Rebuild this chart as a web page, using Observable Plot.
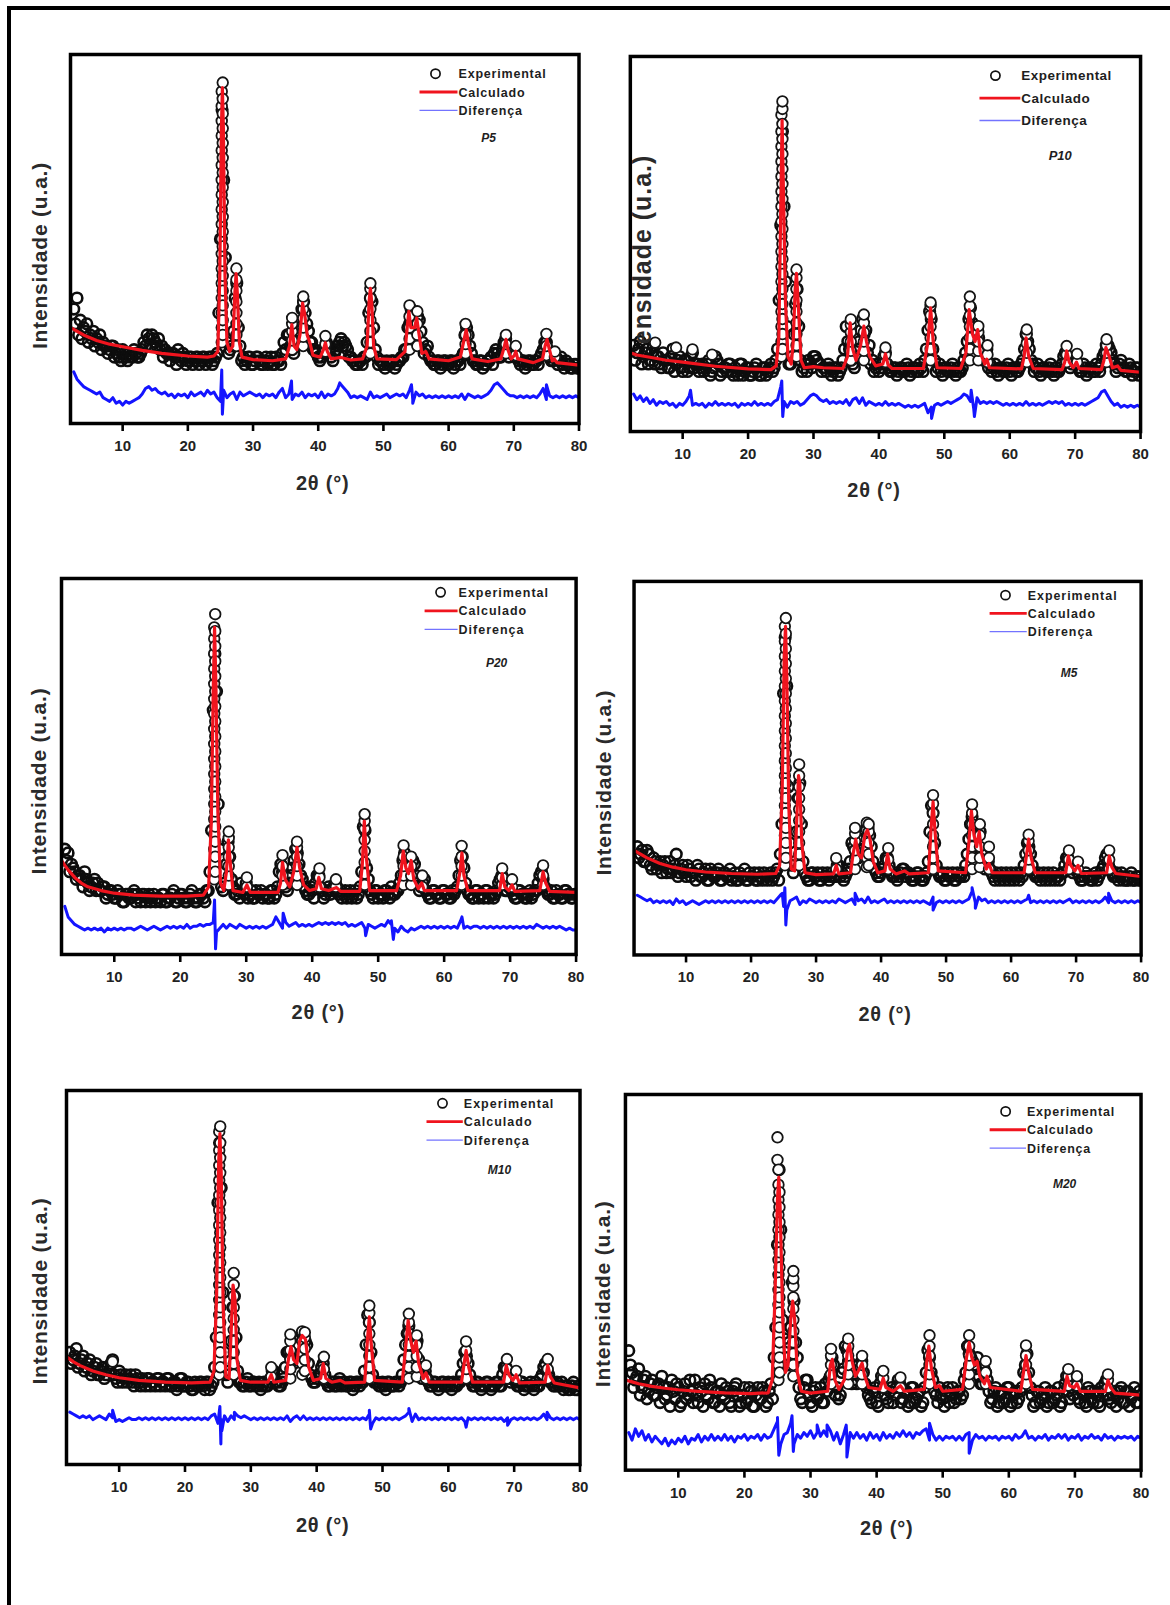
<!DOCTYPE html>
<html><head><meta charset="utf-8">
<script src="https://cdn.jsdelivr.net/npm/d3@7"></script>
<script src="https://cdn.jsdelivr.net/npm/@observablehq/plot@0.6"></script>
<style>
body{margin:0;background:#fff;}
#page{position:relative;width:1170px;height:1605px;overflow:hidden;background:#fff;}
#border{position:absolute;left:7px;top:6px;width:1200px;height:1700px;border-top:4px solid #000;border-left:4px solid #000;}
.panel{position:absolute;}
.panel svg{overflow:visible;}
.panel svg g[aria-label="x-axis"] path,.panel svg g[aria-label="x-axis tick"] path{stroke-width:2.6px;stroke:#000;}
</style></head><body><div id="page"><div id="border"></div></div>
<script>
// ---------- shared ----------
const GRID_START = 2.5, GRID2_START = 2.75, GRID_STEP = 0.5;   // 2θ sampling of the observed pattern
const xTicks = [10, 20, 30, 40, 50, 60, 70, 80];
const legendLabels = ["Experimental", "Calculado", "Diferença"];
const panelNames = ["P5", "P10", "P20", "M5", "M10", "M20"];
const yTitles = ["Intensidade (u.a.)", "ensidade (u.a.)", "Intensidade (u.a.)", "Intensidade (u.a.)", "Intensidade (u.a.)", "Intensidade (u.a.)"];
const xTitle = "2θ (°)";

// ---------- P5 ----------
const P5_calc = [[2,26],[3,25],[4,24],[6,22.5],[8,21.5],[10,20.8],[13,19.8],[16,19],[20,18.3],[23,18],[24,18.3],[24.6,19.5],[24.9,40],[25.15,80],[25.3,91],[25.45,80],[25.7,40],[26.0,22],[26.4,19.5],[26.9,21],[27.2,35],[27.4,40.6],[27.6,35],[27.9,22],[28.3,18],[30,17.3],[33,17],[35,17.5],[35.6,21],[35.95,26.8],[36.3,21],[36.7,20],[37.2,24],[37.6,32.6],[37.9,30],[38.3,24],[38.7,22],[39.2,18.5],[40.3,18],[40.8,20],[41.1,21.9],[41.4,19.5],[42,17.5],[43.5,17.9],[45,17.2],[46.8,17.5],[47.5,21],[47.8,33],[48.0,36.6],[48.2,33],[48.5,21],[49,17.5],[52,17.3],[53.3,19.5],[53.7,27],[53.9,30.4],[54.2,26],[54.8,26],[55.1,28.6],[55.4,25],[55.9,19],[56.5,19.5],[57,17.5],[60,17],[61.8,18],[62.4,23],[62.7,25.4],[63.0,22],[63.6,17.5],[66,16.8],[68,17.5],[68.5,20.5],[68.8,22.8],[69.1,20],[69.6,17.5],[70.1,18.5],[70.3,19.6],[70.6,17.5],[73,16.5],[74.4,17.5],[74.8,21],[75.1,22.8],[75.4,20.5],[75.9,17],[76.2,17.5],[76.6,16.5],[80,15.8]];
const P5_obs = [31,34,28,26,27,24,25,23,24,22, 21,20,21,19,18,20,18,19,18,19, 18,20,21,23,24,22,23,21,20,19, 19,18,20,17,18,17,18,17,18,17, 18,17,18,17,19,50,66,22,20,25, 38,21,18,17,18,16,18,17,16,18, 17,16,18,17,19,20,24,20,21,25, 31,30,25,22,20,18,18,19,21,18, 19,21,23,22,20,18,17,16,17,18, 22,34,26,18,17,16,17,16,17,16, 17,18,20,27,30,27,28,22,20,18, 17,16,17,16,17,16,17,16,17,18, 24,24,19,17,16,17,16,17,18,19, 19,18,22,20,19,20,18,16,17,16, 17,16,17,18,20,22,18,17,18,17, 16,17,16,15,16,15];
const P5_obs2 = [27,24,23,25,22,23,21,22,20,21, 19,21,18,20,17,19,17,18,20,18, 19,22,24,21,23,21,20,18,19,17, 19,16,18,19,16,18,16,18,16,18, 16,18,16,18,30,85,45,19,21,34, 26,17,16,18,16,17,18,16,17,16, 18,16,17,16,22,24,21,19,22,26, 33,27,22,20,19,17,20,22,20,17, 20,22,21,21,18,17,16,17,16,18, 30,33,20,16,17,15,16,17,15,17, 18,20,26,31,26,29,25,19,21,17, 16,17,15,17,16,17,15,17,16,19, 26,21,17,16,17,15,16,17,16,20, 18,20,23,18,20,18,17,17,15,17, 16,17,16,19,22,20,17,18,16,18, 15,16,15,16,15];
const P5_peaks = [[25.2,22,26,30,34,38,42,46,50,54,58,62,66,70,74,78,82,86,90],[25.35,24,28,32,36,40,44,48,52,56,60,64,68,72,76,80,84,88,92.4],[27.45,21,24,27,30,33,36,39,42],[36.0,20,22.5,25,27,28.6],[37.7,21,23.5,26,28.5,31,33,34.4],[41.1,19.5,21.5,23.7],[48.0,19,22,25,28,31,34,36.5,38],[54.0,20,23,26,29,32],[55.2,21,24,27,30.4],[62.6,19,21.5,24,27],[68.8,19,21.5,24],[70.3,18.5,21],[75.0,18.5,21,24.3],[76.3,18,19.5]];
const P5_diff = [14,12,11,10,9.5,9,8.5,8,8.5,7, 6.5,6,7,5.5,6,5,6,5.5,6,6.5, 7,8,9.5,10,9,9.5,8.5,8,8.5,7.5, 8,7,8,7.5,8,7,8.5,7.5,8,8.5, 7.5,9,8,8.5,7,6,9,7,8,8.5, 6.5,8.5,7.5,8,8.5,8,7.5,8,7,8, 7.5,8,7,8.5,9.5,7,8,6.5,8,7.5, 8.5,7,8,7.5,8,7,8.5,7,8,7.5, 8,9.5,10.5,9.5,8.5,7,7.5,7,7.5,7, 6.5,8.5,7,7.5,7,7.5,8,7,7.5,8, 7.5,8,7,9,6.5,8.5,7.5,8,7,7.5, 7,7.5,7,7.5,7,7.5,7,7.5,7,8, 6.5,8,7.5,7,7.5,7,7.5,8,9,10.5, 11,10,9,8,7.5,7.5,7,7.5,7,7.5, 7,7.5,7,8,9.5,6.5,7.5,7,7.5,7, 7.5,7,7.5,7,7.5,7];
const P5_spikes = [[25.2,14.5],[25.3,2.5],[35.9,11.5],[43.3,11],[54.3,10.5],[54.5,5.5],[75.0,10.5]];

// ---------- P10 ----------
const P10_calc = [[2,21],[3,20.4],[5,19.8],[7.5,19],[10,18.5],[15,17.4],[20,16.7],[23.5,16.5],[24.3,17.5],[24.7,25],[25.0,60],[25.2,83],[25.4,65],[25.7,35],[26.1,20],[26.6,18],[26.9,24],[27.2,38],[27.4,42.2],[27.7,33],[28.1,19],[28.6,17],[30,17.3],[31.5,17],[34.5,16.8],[35.2,20],[35.6,29],[36.0,22],[36.5,19],[37.2,23],[37.7,28.1],[38.1,24],[38.6,20],[39.5,17.5],[40.6,18],[41.0,20.7],[41.4,17.8],[42,16.8],[46.8,16.8],[47.5,24],[47.9,33],[48.3,24],[48.9,17],[52.5,16.8],[53.3,21],[53.8,32.5],[54.3,26],[54.7,24],[55.1,27.2],[55.5,21],[56.2,18],[56.5,19.3],[56.9,17],[61.8,16.7],[62.2,20],[62.5,25],[62.9,20],[63.6,16.8],[68,16.5],[68.4,18.5],[68.7,21.5],[69.1,18.5],[69.7,17],[70.2,18.5],[70.6,16.8],[74,16.5],[74.4,19],[74.7,22.4],[75.2,20],[75.7,17],[76.5,17.5],[77,16.3],[80,15.8]];
const P10_obs = [23,21,24,20,22,19,23,20,18,21, 19,17,22,18,20,16,19,17,21,18, 16,18,17,19,16,20,18,16,17,18, 16,17,15,18,16,17,15,17,16,15, 17,16,18,17,22,55,60,28,18,26, 38,19,17,16,18,20,19,18,17,16, 17,16,17,16,19,28,22,18,20,24, 30,27,23,19,17,16,18,21,17,16, 17,16,17,16,17,16,17,16,17,19, 27,30,19,17,16,17,16,17,16,17, 16,19,24,33,26,27,23,19,22,18, 17,16,17,16,17,16,17,16,17,19, 26,22,18,17,16,17,16,17,16,17, 16,18,21,19,18,20,17,16,17,16, 17,16,17,18,21,23,21,18,17,19, 17,16,17,16,17,16];
const P10_obs2 = [19,22,18,21,18,21,18,20,17,19, 17,20,16,19,17,19,16,20,17,18, 17,16,18,15,17,19,15,17,16,18, 15,16,18,15,17,15,16,18,15,17, 15,17,16,19,35,80,40,18,20,34, 28,16,18,19,17,20,18,16,17,18, 15,17,15,17,22,24,19,17,22,27, 26,21,18,16,18,17,20,18,16,17, 15,17,16,18,15,17,16,18,16,22, 32,22,16,18,15,17,16,18,15,16, 17,21,30,29,24,25,20,21,17,16, 18,15,17,16,18,15,17,16,18,22, 24,19,16,18,15,17,16,18,15,16, 17,20,20,17,19,18,16,18,15,17, 16,18,16,20,23,22,19,16,18,17, 16,18,15,17,15];
const P10_peaks = [[25.1,20,24,28,32,36,40,44,48,52,56,60,64,68,72,76,80,84.4],[25.25,22,26,30,34,38,42,46,50,54,58,62,66,70,74,78,82,86,88],[27.4,20,23,26,29,32,35,38,41,43.2],[35.7,19,21.5,24,26.5,28.5,29.9],[37.7,19,21.5,24,26.5,29,31.2],[41.0,18.5,20.5,22.4],[47.9,19,22,25,28,31,33.5,34.4],[53.9,19,22,25,28,31,33.5,36],[55.2,19,21.5,24,26.5,28.1],[56.6,18.5,20.5,23],[62.6,18.5,21,23.5,26,27.2],[68.7,18.5,20.5,22.8],[70.3,18.5,20.7],[74.8,18.5,21,23,24.6],[5.8,23.7],[9.0,22.4],[11.5,21.9],[14.5,20.5]];
const P10_diff = [10,8.5,9.5,8,9,7.5,8.5,7,8,7.5, 8,7,7.5,6.5,7.5,7,8,9.5,7,7.5, 7,7.5,6.5,7.5,7,8,7,7.5,7,7.5, 7,7.5,6.5,7.5,7,7.5,7,8,7,7.5, 7,7.5,7,8,8.5,12,8,6.5,8,7.5, 8,7,7.5,8.5,9.5,10,9.5,8.5,8,8.5, 7.5,8,7.5,8,7.5,8.5,7,8.5,9,7.5, 9,7,8,7.5,7,7.5,7,8,7,7.5, 7,7.5,7,6.5,7,6.5,7,6.5,7,7.5, 5,6.5,7,7.5,7,7.5,8,7.5,8,8.5, 9,10,9.5,8,6,9,7.5,8,7.5,8, 7.5,8,7.5,7,7.5,7,7.5,7,7.5,7, 8,7,7.5,7,7.5,7,7.5,8,7.5,8, 7.5,8,7,7.5,7,7.5,7,7.5,7,7.5, 8,8.5,9,10.5,11,9.5,8,7,7.5,6.5, 7,6.5,7,6.5,7,6.5];
const P10_spikes = [[11.2,11],[25.15,13.5],[25.3,4],[48.05,3.5],[54.1,11],[54.6,4]];

// ---------- P20 ----------
const P20_calc = [[2,25],[2.5,23.7],[3,22.5],[4,20.5],[5,19],[6,18],[8,17],[10,16.3],[13,15.8],[17,15.5],[21,15.5],[23.5,15.8],[24.3,18],[24.7,35],[25.0,70],[25.2,87],[25.4,72],[25.7,38],[26.1,19],[26.6,17],[27.0,22],[27.3,30.5],[27.6,24],[28.0,17],[29.5,16.5],[30.1,18.5],[30.6,16.5],[34.8,16.5],[35.2,19],[35.5,24.5],[35.9,20],[36.6,18],[37.2,22],[37.7,28.5],[38.1,23],[38.7,18.5],[39.6,17],[40.6,17.5],[41.0,20.5],[41.4,17.5],[42.5,17],[43.7,17.8],[44.3,16.8],[47.2,16.8],[47.6,24],[47.9,35.5],[48.2,26],[48.7,17],[52.8,17],[53.4,21],[53.8,27.5],[54.2,23],[54.6,21.5],[55.0,25],[55.4,20],[56.1,17.5],[56.6,19],[57.0,17],[61.9,17],[62.4,22],[62.7,27],[63.0,21],[63.6,17],[68.4,17],[68.8,21.5],[69.2,18],[69.8,17],[70.3,18.5],[70.7,16.8],[74.5,17],[75.0,22],[75.4,19],[76.0,16.8],[80,16.5]];
const P20_obs = [28,27,24,22,21,20,22,19,18,20, 19,17,18,16,17,15,17,16,14,16, 15,17,16,14,16,15,14,16,15,14, 16,14,15,17,14,16,15,14,16,15, 14,16,15,17,22,65,70,28,17,24, 26,18,16,15,17,19,16,15,17,16, 15,16,15,17,16,22,22,18,19,23, 28,24,20,17,16,17,19,21,17,16, 18,17,19,16,15,17,16,15,17,16, 22,33,20,16,17,15,16,17,16,18, 16,17,21,27,22,23,24,19,18,20, 16,15,17,16,15,17,16,15,16,18, 25,23,17,16,15,17,16,15,17,16, 15,17,20,19,17,19,16,15,17,16, 15,17,16,17,21,20,17,16,15,17, 16,15,17,16,15,16];
const P20_obs2 = [25,22,23,20,21,18,20,17,19,17, 17,18,15,17,16,15,16,14,16,15, 16,14,15,16,14,16,15,14,15,16, 14,15,16,14,15,16,14,15,17,14, 15,16,14,17,33,80,40,18,19,30, 20,16,17,19,16,15,17,15,16,17, 16,15,17,15,18,24,19,17,21,25, 27,21,18,16,18,15,21,18,15,17, 16,18,18,17,16,15,17,16,15,18, 34,23,17,15,17,16,15,17,15,16, 17,19,25,24,21,25,21,17,19,17, 15,17,16,15,17,16,15,17,17,21, 26,19,16,15,17,15,16,17,15,16, 16,19,21,17,18,17,15,17,16,15, 16,15,17,19,22,18,16,17,15,16, 15,17,16,15,16];
const P20_peaks = [[25.15,20,24,28,32,36,40,44,48,52,56,60,64,68,72,76,80,84,87],[25.3,22,26,30,34,38,42,46,50,54,58,62,66,70,74,78,82,86,90.5],[27.35,18.5,21,23.5,26,28.5,31,32.7],[30.1,18,20.5],[35.5,18.5,21,23.5,26.4],[37.7,18.5,21,23.5,26,28.5,30],[41.1,18,20.5,22.9],[43.6,18,20],[47.95,18.5,21.5,24.5,27.5,30.5,33.5,35.5,37.3],[53.85,18.5,21,23.5,26,29],[55.0,18.5,21,23.5,26],[56.7,18,21],[62.65,18.5,21,23.5,26,28.9],[68.8,18.5,20.5,22.9],[70.3,18,20],[75.0,18.5,21,23.7]];
const P20_diff = [12.8,10,9,8,7.5,7,6.5,7,6.5,7, 6.5,7,6,7,6.5,7,6.5,7,6.5,7, 7,6.5,7,7.5,7,6.5,7,7.5,7,6.5, 7,7.5,7,7.5,7,7.5,7,8,7,7.5, 7.5,8,7.5,8,8,8.5,6,7,8,7, 8,7.5,7,8,7.5,7,7.5,7,7.5,7, 7.5,7,7.5,8,10,8.5,7,8.5,7.5,8, 8.5,7.5,8,7.5,8,7.5,8,8.5,8,8.5, 8,8.5,8,8.5,8,8.5,7.5,8,7.5,8, 8.5,7,8,7.5,7,7.5,8,7.5,9,8, 7,6,7.5,6.5,6,7,6.5,7,7.5,7, 7.5,7,7.5,7,7.5,7,7.5,7,7.5,7, 9,7,7.5,7,7.5,7.5,7,7.5,7,7.5, 7,7.5,7,7.5,7,7.5,7,7.5,7,7.5, 7,7.5,7,8,7.5,7,7.5,7,7.5,7, 7.5,7,6.5,7,6.5,6.5];
const P20_spikes = [[25.2,14.5],[25.35,1.5],[35.6,11],[48.1,5],[52.0,9],[52.3,4],[62.7,10]];

// ---------- M5 ----------
const M5_calc = [[2,28],[3,27],[4,26],[6,24.5],[8,23.5],[10,22.8],[13,22.2],[17,21.8],[21,21.6],[23.8,21.8],[24.4,24],[24.8,45],[25.1,80],[25.3,88],[25.5,75],[25.8,40],[26.2,23],[26.7,22.5],[27.0,35],[27.3,48],[27.5,46],[27.8,30],[28.3,22],[30,21.5],[32.7,21.7],[33.1,24],[33.5,21.7],[35.3,22],[35.7,27],[36.1,31],[36.5,27],[37.0,26],[37.5,32],[37.9,33.5],[38.3,31],[38.8,25],[39.5,22],[40.6,22.5],[41.0,27],[41.4,23],[42.3,21.7],[43.6,22.5],[44.3,21.7],[47.3,22],[47.7,34],[48.0,41],[48.3,33],[48.8,22.5],[53.0,22],[53.5,30],[53.9,38.5],[54.3,32],[54.7,29],[55.1,33],[55.5,27],[56.2,23],[56.6,24.5],[57.1,22],[62.0,22],[62.4,27],[62.7,31],[63.1,26],[63.7,22],[68.4,22],[68.8,26.5],[69.2,24],[69.8,22.5],[70.3,24],[70.8,21.8],[74.7,22],[75.1,26.5],[75.5,23.5],[76.1,21.8],[80,21]];
const M5_obs = [29,27,25,28,24,26,23,25,24,22, 25,23,27,22,24,21,23,22,20,23, 21,23,20,22,21,23,20,22,21,20, 22,20,21,23,20,21,22,20,21,22, 20,22,21,23,27,70,72,30,22,33, 46,25,21,20,22,21,20,22,21,20, 22,21,24,22,21,23,30,28,26,28, 33,34,29,23,21,22,24,26,22,21, 20,22,23,22,21,20,22,21,20,22, 33,38,24,21,22,20,21,22,20,21, 22,24,31,37,31,32,27,23,25,22, 20,21,22,20,21,22,20,21,22,24, 30,27,22,21,20,22,21,20,22,21, 20,22,26,24,22,24,21,20,22,21, 20,22,21,23,26,24,22,21,20,22, 21,20,22,20,21,20];
const M5_obs2 = [26,28,25,27,23,25,24,22,25,23, 22,24,21,23,22,24,21,22,24,21, 22,20,23,21,22,20,22,21,23,21, 20,22,21,20,22,21,20,22,20,21, 21,20,22,20,35,85,45,24,25,42, 35,22,20,22,21,22,20,21,22,21, 21,24,21,20,22,25,29,27,27,31, 34,32,25,22,21,23,26,24,21,22, 21,23,21,22,20,21,22,20,21,25, 40,30,22,21,20,22,21,20,22,21, 21,27,35,33,29,33,25,24,23,21, 22,20,21,22,20,21,22,20,21,27, 29,24,21,22,21,20,22,21,20,21, 22,24,26,23,23,22,20,21,21,20, 21,20,22,24,27,23,21,22,21,20, 20,21,20,21,20];
const M5_peaks = [[25.2,24,28,32,36,40,44,48,52,56,60,64,68,72,76,80,84,88],[25.35,26,30,34,38,42,46,50,54,58,62,66,70,74,78,82,86,90.2],[27.4,24,27,30,33,36,39,42,45,48,51],[33.1,23,25.9],[36.0,23,25.5,28,30.5,32.5,34],[37.8,23.5,26,28.5,31,33.5,35.4],[38.1,24,27,30,33,35],[41.1,23,25.5,28.6],[48.0,23,26,29,32,35,38,40.5,42.8],[54.0,23,26,29,32,35,38,40.3],[55.2,23.5,26,29,32,35],[56.6,23,26,29],[62.7,23,25.5,28,30.5,32.2],[68.9,23,25.5,28],[70.3,23,25],[75.1,23,25.5,28]];
const M5_diff = [16,15.5,15,14.5,15,14,14.5,14,14.5,14, 14.5,13.5,15,14,14.5,13.5,14,14.5,14,13.5, 14,14.5,14,14.5,14,14.5,14,14.5,14,14.5, 14,14.5,14,14.5,14,14.5,14,14.5,14,14.5, 14,14.5,14,15,16,13,12,14.5,15,15.5, 13.5,14.5,14,15,14.5,14,14.5,14,14.5,14, 14.5,14,15,14.5,14,14.5,15,13.5,14.5,15, 14,15.5,14,14.5,14,14.5,15,14,14.5,14, 14.5,14,14.5,14,14.5,14,14.5,14,14.5,14, 13.5,15.5,14,14.5,14,14.5,14,14.5,14,14.5, 14,14.5,15,17,14,15.5,14.5,15,14,14.5, 14,14.5,14,14.5,14,14.5,14,14.5,14,14.5, 15,14,14.5,14,14.5,14,14.5,14,14.5,14, 14.5,14,14.5,15,14,14.5,14,14.5,14,14.5, 14,14.5,14,14.5,15.5,14,14.5,14,14.5,14, 14.5,14,14.5,14,14.5,14];
const M5_spikes = [[24.8,16.5],[25.2,18],[25.35,8],[36.0,16.5],[48.0,12],[54.0,18],[54.5,12.5],[62.7,16],[75.0,16.5]];

// ---------- M10 ----------
const M10_calc = [[2,28.8],[3,27.5],[4,26.5],[6,25],[8,24],[10,23.2],[13,22.5],[17,22],[21,21.8],[23.8,22],[24.4,25],[24.8,45],[25.1,80],[25.3,88.5],[25.5,78],[25.8,42],[26.2,23.5],[26.7,23],[27.0,35],[27.3,48],[27.6,44],[27.9,28],[28.4,22.5],[30,22],[32.6,22],[33.1,24],[33.5,22],[35.3,22.5],[35.7,28],[36.1,31.5],[36.5,28],[37.0,27],[37.4,33],[37.8,34.5],[38.3,33.5],[38.8,26],[39.5,22.5],[40.6,23],[41.0,27],[41.4,23],[42.3,22],[43.6,22.5],[44.3,21.8],[47.3,22],[47.7,33],[48.0,39.5],[48.3,32],[48.8,22.5],[53.0,22],[53.5,31],[53.9,38.5],[54.3,33],[54.7,30],[55.1,33],[55.5,27],[56.2,23],[56.6,24.5],[57.1,22],[62.0,22],[62.4,27],[62.7,30.5],[63.1,26],[63.7,22],[68.4,22],[68.8,26.5],[69.2,24],[69.8,22.5],[70.3,24],[70.8,21.8],[74.7,22],[75.1,26.5],[75.5,23.5],[76.1,21.8],[80,20.5]];
const M10_obs = [30,28,31,27,29,26,28,25,27,24, 26,24,25,28,23,25,22,24,23,22, 24,22,23,21,23,22,21,23,22,21, 23,21,22,21,23,21,22,20,22,21, 22,20,22,21,26,70,74,30,22,33, 45,25,22,21,23,21,22,21,20,22, 21,23,25,22,21,23,30,29,27,29, 34,35,32,24,22,23,24,27,22,21, 22,21,23,22,21,22,20,22,21,22, 32,38,24,22,21,22,20,22,21,22, 21,24,32,37,32,33,28,23,25,22, 21,22,20,22,21,22,20,21,22,24, 30,27,22,21,22,20,21,22,20,21, 22,21,26,25,22,24,21,22,20,21, 22,20,21,23,26,25,22,21,22,21, 20,21,20,22,20,21];
const M10_obs2 = [27,29,26,28,25,27,24,26,24,25, 23,26,27,24,22,24,23,22,24,21, 23,21,22,23,21,22,23,21,22,23, 21,22,20,23,21,22,21,20,21,22, 21,22,20,22,34,86,46,24,25,42, 34,22,21,22,21,22,21,22,21,21, 22,25,22,21,22,26,30,28,28,32, 35,33,27,23,22,24,26,24,21,22, 21,22,21,22,21,22,21,22,22,25, 40,30,22,22,21,21,22,21,21,22, 22,28,35,34,30,33,26,24,23,21, 22,21,21,22,21,21,22,21,22,27, 29,24,21,22,21,21,22,21,21,22, 21,24,26,23,23,22,21,22,21,21, 21,22,21,24,27,24,22,21,21,22, 21,20,21,20,21];
const M10_peaks = [[25.2,24,28,32,36,40,44,48,52,56,60,64,68,72,76,80,84,89],[25.35,26,30,34,38,42,46,50,54,58,62,66,70,74,78,82,86,90.4],[27.4,24,27,30,33,36,39,42,45,48,51.2],[33.1,23.5,26],[36.0,23,25.5,28,30.5,33,34.8],[37.8,24,27,30,33,35.6],[38.2,25,28,31,34,35.3],[41.1,23,25.5,28.8],[48.0,23,26,29,32,35,38,40.5,42.5],[54.0,23,26,29,32,35,38,40.3],[55.2,23.5,26,29,32,34.5],[56.6,23,26.5],[62.7,23,25.5,28,30.5,32.9],[68.9,23,25.5,28.2],[70.3,23,25],[75.1,23,25.5,28.2],[9.0,27.5]];
const M10_diff = [14,13.5,13,12.5,13,12.5,13,12,12.5,13, 12.5,12,13.5,12.5,11.5,12,11.5,12,12.5,12, 12,12.5,12,12.5,12,12.5,12,12.5,12,12.5, 12,12.5,12,12.5,12,12.5,12,12.5,12,12.5, 12,12.5,12,13,13.5,11,12,13,11.5,13, 12,13,12.5,13,12.5,12,12.5,12,12.5,12, 12.5,12,12.5,12,12.5,12,13,11.5,12.5,13, 12,13,12,12.5,12,12.5,12,12.5,12,12.5, 12,12.5,12,12.5,12,12.5,12,12.5,12,12.5, 12,13.5,11,12.5,12,12.5,12,12.5,12,12.5, 12,12.5,13,14,11.5,13.5,12,12.5,12,12.5, 12,12.5,12,12.5,12,12.5,12,12.5,12,12.5, 11.5,12.5,12,12.5,12,12.5,12,12.5,12,12.5, 12,12.5,11.5,12.5,12,12.5,12,12.5,12,12.5, 12,12.5,12,12.5,13.5,12,12.5,12,12.5,12, 12.5,12,12.5,12,12.5,12];
const M10_spikes = [[9.0,14.5],[25.3,15.5],[25.45,5.5],[25.6,9],[27.5,14],[48.0,14.5],[48.2,9.5],[54.0,15],[62.7,10],[69.0,10.5],[75.0,14]];

// ---------- M20 ----------
const M20_calc = [[2,24],[3,23.5],[4,23],[6,22.3],[8,21.8],[10,21.4],[13,21],[17,20.6],[21,20.4],[23.6,20.6],[24.2,24],[24.6,45],[25.0,72],[25.2,78],[25.4,70],[25.8,40],[26.2,26],[26.6,28],[27.0,40],[27.3,45],[27.6,40],[28.0,26],[28.6,21],[30,20.5],[32.6,21],[33.0,28],[33.3,29.5],[33.7,24],[34.3,21.5],[35.1,24],[35.6,32],[35.9,33.5],[36.3,29],[36.8,25],[37.4,27],[37.8,28.5],[38.2,25],[38.8,22],[40.5,21.5],[41.0,24.5],[41.4,22],[42.5,21],[43.6,22.5],[44.2,21],[47.2,21.5],[47.6,29],[47.9,33],[48.3,27],[48.9,22],[49.5,22.5],[50,21],[53.0,21.5],[53.6,30],[54.0,34],[54.4,30],[54.8,28],[55.2,29],[55.6,25],[56.3,23],[56.7,25],[57.2,22],[61.8,21],[62.3,27],[62.6,30.5],[63.0,26],[63.6,21.5],[68.4,21],[68.8,25],[69.2,22.5],[69.9,22],[70.3,23],[70.8,21],[74.6,21],[75.0,24],[75.4,22],[76.1,20.5],[80,20]];
const M20_obs = [31.8,26,24,27,22,25,21,24,20,23, 25,19,22,24,19,22,18,23,20,21, 24,18,21,23,19,22,18,21,23,19, 21,17,22,20,18,22,19,21,17,22, 19,21,18,23,30,60,64,35,28,38, 45,30,19,22,24,18,21,19,22,18, 21,25,28,22,20,27,32,27,24,23, 27,26,22,19,21,18,23,22,19,21, 18,22,23,19,21,18,22,19,21,18, 26,30,24,20,22,19,21,18,22,19, 21,20,26,31,29,27,25,23,26,21, 19,22,18,21,19,22,18,21,19,22, 28,26,20,18,21,19,22,18,21,19, 22,18,23,21,22,23,19,21,18,22, 19,21,18,22,23,20,18,21,19,22, 18,21,19,22,18,20];
const M20_obs2 = [28,22,25,20,24,19,23,20,22,18, 22,20,17,21,23,17,21,19,24,18, 20,22,17,20,24,18,21,17,20,22, 18,21,23,17,20,18,22,17,20,19, 22,17,21,19,38,80,40,30,34,50, 34,22,18,24,20,17,22,20,18,23, 24,30,20,19,26,33,29,23,24,28, 29,23,20,18,22,17,25,20,18,22, 20,24,18,21,17,22,18,20,17,22, 32,26,21,18,20,17,22,20,18,21, 19,24,33,30,28,30,23,27,24,18, 21,17,20,18,22,17,20,18,21,26, 31,22,17,21,18,20,17,21,18,20, 17,21,25,19,20,24,18,20,17,21, 18,20,17,21,24,19,20,17,21,18, 21,17,20,18,21];
const M20_peaks = [[25.0,88.6,82.6],[25.15,24,28,32,36,40,44,48,52,56,60,64,68,72,76,80],[25.3,26,30,34,38,42,46,50,54,58,62,66,70,74],[27.4,25,28,31,34,37,40,43,46,49,51,53],[33.1,23,25.5,28,30.5,32.3],[35.7,23,25.5,28,30.5,33,35],[37.8,23,25.5,28,30.4],[41.0,22,24.5,26.4],[43.6,22,24.7],[48.0,23,25.5,28,30.5,33,35.9],[54.0,23,25.5,28,30.5,33,35.9],[56.5,23,26,29],[62.6,23,25.5,28,30.5,33.2],[69.0,22.5,25,26.9],[70.3,22.5,25],[75.0,22,24,25.5]];
const M20_diff = [10,8,11,9,10.5,8,9.5,7.5,9,8, 7,8.5,6.5,8,7,8.5,7.5,9,7,8.5, 8,9.5,7.5,9,8,9.5,8,9,8,9.5, 8,9,7.5,9,8.5,9.5,8,9,8.5,9.5, 8,9.5,8.5,9,11,13,7,9.5,10,12.5, 7,9.5,8.5,10,9,10.5,8.5,10,9,10.5, 9,10.5,8,10,7,9.5,8.5,10,8.5,10, 8.5,9.5,8,10,8.5,9.5,8,10,8.5,9.5, 8.5,10,9,10.5,9,10,8.5,10,9.5,10.5, 11,8,9.5,8,9,8,9,8.5,9,8, 9,8,9.5,10,8,9.5,8.5,9,8,9, 8.5,9,8,9,8.5,9,8,9.5,8.5,9, 10.5,8.5,9,8,9,8.5,9.5,8,9,8.5, 9.5,8.5,9.5,8,9,8.5,9.5,8,9,8.5, 9.5,8.5,9,8,9.5,8.5,9,8,9,8.5, 9,8.5,9,8,9,8.5];
const M20_spikes = [[25.0,14],[25.2,4],[27.2,14.5],[27.4,5],[31.0,12],[32.5,12],[35.4,12],[35.5,3.5],[48.0,12.5],[54.0,4.5]];

// ---------- layout (frame boxes in page pixels & text placement) ----------
const layout = [
  {frame:[69.5,54,578,423],   ylab:{dx:-30.5,dy:17,fs:21,ls:0.8}, xlab:{dx:-1.5,dy:60},
   leg:{cx:-143,tx:-120,y0:19.7,gap:18.3,lx:-90,ly:84,fs:12.5,ls:0.8}},
  {frame:[630,56,1141.5,432], ylab:{dx:12,dy:6,fs:25,ls:1},      xlab:{dx:-11,dy:59},
   leg:{cx:-145,tx:-119,y0:19.7,gap:22.5,lx:-80,ly:100,fs:13.5,ls:0.5}},
  {frame:[61.4,578,576,954],  ylab:{dx:-22.5,dy:15,fs:21,ls:0.8}, xlab:{dx:0,dy:58},
   leg:{cx:-135,tx:-117,y0:14.3,gap:18.5,lx:-79,ly:85,fs:12.5,ls:1}},
  {frame:[633.6,581,1144,957],ylab:{dx:-30.6,dy:15,fs:21,ls:0.8}, xlab:{dx:-2,dy:59.5},
   leg:{cx:-136,tx:-113.6,y0:14.3,gap:18.4,lx:-72,ly:92,fs:12.5,ls:1}},
  {frame:[65.5,1090,579,1464],ylab:{dx:-26.5,dy:14,fs:21,ls:0.8}, xlab:{dx:0,dy:61},
   leg:{cx:-137,tx:-115.7,y0:13.3,gap:18.4,lx:-80,ly:80,fs:12.5,ls:1}},
  {frame:[624.5,1094,1140.5,1470],ylab:{dx:-23,dy:12,fs:21,ls:0.8}, xlab:{dx:4,dy:58},
   leg:{cx:-135,tx:-113.6,y0:17.4,gap:18.4,lx:-76,ly:90,fs:12.5,ls:0.8}}
];

const series = [
  [P5_calc, P5_obs, P5_obs2, P5_peaks, P5_diff, P5_spikes],
  [P10_calc, P10_obs, P10_obs2, P10_peaks, P10_diff, P10_spikes],
  [P20_calc, P20_obs, P20_obs2, P20_peaks, P20_diff, P20_spikes],
  [M5_calc, M5_obs, M5_obs2, M5_peaks, M5_diff, M5_spikes],
  [M10_calc, M10_obs, M10_obs2, M10_peaks, M10_diff, M10_spikes],
  [M20_calc, M20_obs, M20_obs2, M20_peaks, M20_diff, M20_spikes]
];

const FONT = '"Liberation Sans", Arial, Helvetica, sans-serif';
const RED = "#f0141e", BLUE = "#1414ff", LEGBLUE = "#7373ff";

function onGrid(vals, start) { return vals.map((v, i) => ({x: start + i * GRID_STEP, y: v})); }

function decor(k) {
  const cfg = layout[k];
  return (index, scales, values, dims) => {
    const {width, height, marginLeft, marginTop, marginRight, marginBottom} = dims;
    const L = marginLeft, T = marginTop, R = width - marginRight, B = height - marginBottom;
    const g = d3.create("svg:g").attr("font-family", FONT).attr("font-weight", "bold").attr("fill", "#1e1e1e");
    const lg = cfg.leg;
    legendLabels.forEach((t, i) => {
      g.append("text").attr("x", R + lg.tx).attr("y", T + lg.y0 + i * lg.gap).attr("dy", "0.36em")
        .attr("text-anchor", "start").attr("font-size", lg.fs).attr("letter-spacing", lg.ls).text(t);
    });
    g.append("circle").attr("cx", R + lg.cx).attr("cy", T + lg.y0).attr("r", 4.6)
      .attr("fill", "none").attr("stroke", "#111").attr("stroke-width", 1.7);
    g.append("line").attr("x1", R + lg.cx - 16).attr("x2", R + lg.tx - 1)
      .attr("y1", T + lg.y0 + lg.gap).attr("y2", T + lg.y0 + lg.gap).attr("stroke", RED).attr("stroke-width", 2.8);
    g.append("line").attr("x1", R + lg.cx - 16).attr("x2", R + lg.tx - 1)
      .attr("y1", T + lg.y0 + 2 * lg.gap).attr("y2", T + lg.y0 + 2 * lg.gap).attr("stroke", LEGBLUE).attr("stroke-width", 1.3);
    g.append("text").attr("x", R + lg.lx).attr("y", T + lg.ly).attr("dy", "0.36em").attr("text-anchor", "middle")
      .attr("font-style", "italic").attr("font-size", lg.fs - 0.5).text(panelNames[k]);
    const yl = cfg.ylab;
    g.append("text").attr("transform", `translate(${L + yl.dx},${(T + B) / 2 + yl.dy}) rotate(-90)`)
      .attr("text-anchor", "middle").attr("dy", "0.36em").attr("font-size", yl.fs).attr("letter-spacing", yl.ls)
      .attr("fill", "#2a2a2a").text(yTitles[k]);
    const xl = cfg.xlab;
    g.append("text").attr("x", (L + R) / 2 + xl.dx).attr("y", B + xl.dy).attr("dy", "0.36em")
      .attr("text-anchor", "middle").attr("font-size", 20).attr("letter-spacing", 0.8)
      .attr("fill", "#2a2a2a").text(xTitle);
    return g.node();
  };
}

const page = document.getElementById("page");
const ML = 70, MT = 12, MR = 30, MB = 80;
layout.forEach((cfg, k) => {
  const [calc, obs, obs2, peaks, diff, spikes] = series[k];
  const [L, T, R, B] = cfg.frame;
  const obsBand = onGrid(obs, GRID_START).concat(onGrid(obs2, GRID2_START));
  const obsPeaks = peaks.flatMap(([x, ...ys]) => ys.map(y => ({x, y})));
  const calcData = calc.map(([x, y]) => ({x, y}));
  const diffData = onGrid(diff, GRID_START).concat(spikes.map(([x, y]) => ({x, y}))).sort((a, b) => a.x - b.x);
  const svg = Plot.plot({
    width: (R - L) + ML + MR,
    height: (B - T) + MT + MB,
    marginLeft: ML, marginTop: MT, marginRight: MR, marginBottom: MB,
    style: {background: "transparent", overflow: "visible", fontFamily: FONT, fontSize: "15px", fontWeight: "bold", color: "#222"},
    x: {domain: [2, 80], ticks: xTicks, tickSize: 8, tickPadding: 9, label: null, tickFormat: d => String(d)},
    y: {domain: [0, 100], axis: null},
    marks: [
      Plot.dot(obsBand, {x: "x", y: "y", r: 5.3, stroke: "#0d0d0d", strokeWidth: 2.6, fill: "none", clip: true}),
      Plot.dot(obsPeaks, {x: "x", y: "y", r: 5.3, stroke: "#151515", strokeWidth: 1.8, fill: "white", clip: true}),
      Plot.line(calcData, {x: "x", y: "y", stroke: RED, strokeWidth: 3.2, clip: true}),
      Plot.line(diffData, {x: "x", y: "y", stroke: BLUE, strokeWidth: 3, clip: true}),
      Plot.frame({stroke: "#000", strokeWidth: 3.5}),
      decor(k)
    ]
  });
  const holder = document.createElement("div");
  holder.className = "panel";
  holder.style.left = (L - ML) + "px";
  holder.style.top = (T - MT) + "px";
  holder.appendChild(svg);
  page.appendChild(holder);
});
</script>
</body></html>
